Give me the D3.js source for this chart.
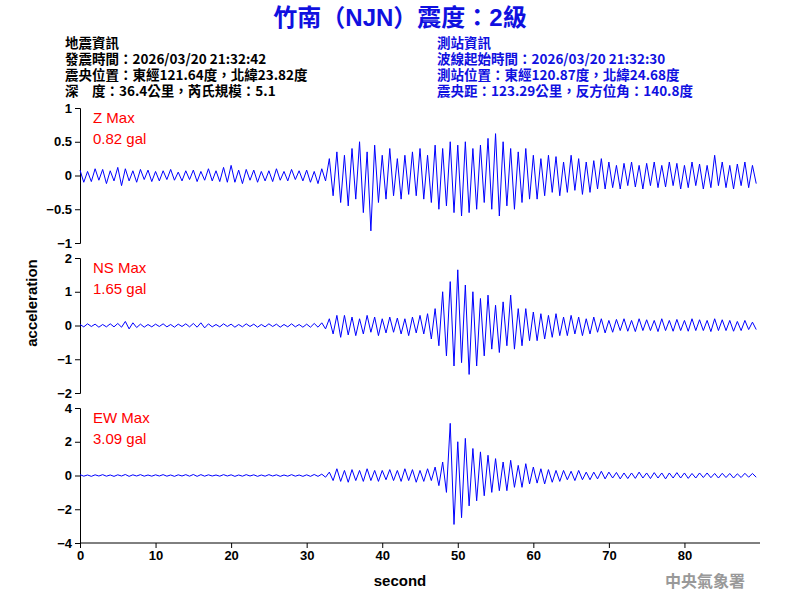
<!DOCTYPE html>
<html><head><meta charset="utf-8">
<script src="https://cdn.jsdelivr.net/npm/d3@7"></script>
<style>body{margin:0;background:#fff}text{font-family:"Liberation Sans",Arial,"Noto Sans CJK TC",sans-serif}</style>
</head><body><svg id="c" width="800" height="600"></svg>
<script>
const dt = 0.5;
const zData = [.08,-.1,.06,-.09,.1,-.07,.09,-.12,.07,-.08,.12,-.15,.1,-.08,.07,-.1,.09,-.06,.08,-.09,
.06,-.08,.07,-.06,.09,-.07,.05,-.08,.07,-.06,.08,-.09,.06,-.07,.1,-.08,.07,-.09,.12,-.1,
.15,-.1,.08,-.12,.09,-.07,.08,-.1,.06,-.08,.07,-.09,.1,-.07,.06,-.08,.09,-.06,.07,-.08,
.08,-.1,.06,-.12,.1,-.08,.25,-.3,.35,-.4,.3,-.45,.4,-.35,.5,-.55,.35,-.82,.45,-.4,
.3,-.35,.4,-.3,.25,-.35,.3,-.28,.35,-.3,.4,-.35,.3,-.4,.45,-.5,.4,-.45,.5,-.55,
.45,-.6,.5,-.55,.4,-.5,.45,-.4,.55,-.5,.62,-.6,.5,-.45,.4,-.5,.35,-.4,.4,-.35,
.3,-.35,.25,-.3,.3,-.25,.28,-.3,.2,-.25,.3,-.22,.25,-.28,.2,-.25,.22,-.2,.25,-.2,
.2,-.18,.15,-.2,.18,-.15,.2,-.17,.15,-.2,.18,-.15,.2,-.18,.15,-.17,.2,-.15,.18,-.2,
.15,-.18,.2,-.15,.17,-.2,.15,-.18,.3,-.15,.2,-.18,.15,-.2,.17,-.15,.2,-.18,.15,-.12];
const nsData = [.03,-.04,.05,-.03,.04,-.05,.03,-.04,.05,-.04,.06,-.05,.12,-.1,.08,-.06,.04,-.05,.03,-.04,
.04,-.03,.05,-.04,.03,-.05,.04,-.03,.05,-.04,.06,-.05,.08,-.07,.05,-.04,.03,-.04,.05,-.03,
.04,-.05,.03,-.04,.05,-.03,.04,-.05,.03,-.04,.05,-.03,.04,-.05,.03,-.04,.05,-.04,.03,-.05,
.04,-.05,.06,-.05,.08,-.1,.2,-.25,.3,-.35,.3,-.28,.25,-.3,.2,-.25,.3,-.2,.25,-.3,
.2,-.22,.25,-.2,.22,-.25,.2,-.3,.25,-.22,.3,-.25,.35,-.4,.5,-.6,1.0,-.9,1.3,-1.2,
1.65,-1.1,1.2,-1.45,1.0,-1.2,.8,-.9,.9,-.7,.6,-.8,.7,-.6,.9,-.7,.5,-.6,.5,-.45,
.4,-.45,.35,-.4,.3,-.35,.35,-.3,.25,-.3,.3,-.25,.25,-.3,.2,-.25,.25,-.2,.2,-.22,
.15,-.2,.18,-.15,.2,-.17,.15,-.18,.2,-.15,.17,-.15,.15,-.18,.2,-.15,.15,-.17,.18,-.15,
.15,-.17,.2,-.15,.17,-.15,.15,-.18,.2,-.15,.17,-.15,.15,-.17,.12,-.15,.15,-.12,.1,-.12];
const ewData = [.05,-.04,.03,-.05,.04,-.03,.05,-.04,.03,-.05,.04,-.03,.06,-.05,.04,-.03,.05,-.04,.03,-.04,
.04,-.03,.05,-.04,.03,-.05,.04,-.03,.05,-.04,.06,-.05,.05,-.04,.04,-.03,.03,-.04,.05,-.03,
.04,-.05,.03,-.04,.05,-.03,.04,-.05,.03,-.04,.05,-.03,.04,-.05,.03,-.04,.05,-.04,.03,-.05,
.04,-.05,.06,-.05,.08,-.1,.2,-.3,.4,-.35,.3,-.4,.35,-.3,.3,-.35,.4,-.3,.3,-.35,
.3,-.25,.35,-.3,.3,-.35,.4,-.3,.35,-.4,.3,-.35,.4,-.3,.5,-.6,.8,-1.0,3.09,-2.9,
2.0,-2.5,2.2,-1.8,1.6,-1.5,1.4,-1.2,1.2,-1.0,1.0,-.9,.8,-.9,.9,-.7,.6,-.7,.7,-.5,
.5,-.45,.4,-.5,.35,-.4,.3,-.35,.3,-.25,.25,-.3,.3,-.25,.2,-.25,.2,-.2,.25,-.2,
.2,-.15,.18,-.2,.15,-.18,.15,-.17,.2,-.15,.15,-.18,.17,-.15,.15,-.2,.15,-.15,.17,-.15,
.15,-.17,.12,-.15,.15,-.12,.15,-.13,.12,-.15,.13,-.12,.12,-.15,.1,-.12,.13,-.1,.12,-.1];
const panels = [
 {data:zData, max:1, ticks:[-1,-0.5,0,0.5,1], label:["Z Max","0.82 gal"], top:108},
 {data:nsData, max:2, ticks:[-2,-1,0,1,2], label:["NS Max","1.65 gal"], top:258},
 {data:ewData, max:4, ticks:[-4,-2,0,2,4], label:["EW Max","3.09 gal"], top:408}];
const xTicks = [0,10,20,30,40,50,60,70,80];
const leftInfo = ["地震資訊","發震時間：2026/03/20 21:32:42","震央位置：東經121.64度，北緯23.82度","深　度：36.4公里，芮氏規模：5.1"];
const rightInfo = ["測站資訊","波線起始時間：2026/03/20 21:32:30","測站位置：東經120.87度，北緯24.68度","震央距：123.29公里，反方位角：140.8度"];

const svg = d3.select("#c");
const x = d3.scaleLinear().domain([0,90]).range([80,760]);
const H = 135;
svg.append("text").attr("x",400).attr("y",26).attr("text-anchor","middle").attr("fill","#1010e0")
 .attr("font-size",24).attr("font-weight","bold").text("竹南（NJN）震度：2級");
leftInfo.forEach((t,i)=>svg.append("text").attr("x",65).attr("y",48+i*16).attr("font-size",13.5).attr("font-weight","bold").attr("fill","#000").style("font-family","'Noto Sans CJK TC','Liberation Sans'").text(t));
rightInfo.forEach((t,i)=>svg.append("text").attr("x",437).attr("y",48+i*16).attr("font-size",13.5).attr("font-weight","bold").attr("fill","#1010e0").style("font-family","'Noto Sans CJK TC','Liberation Sans'").text(t));
panels.forEach(p=>{
 const y = d3.scaleLinear().domain([-p.max,p.max]).range([p.top+H,p.top]);
 const g = svg.append("g").attr("transform","translate(80,0)")
  .call(d3.axisLeft(y).tickValues(p.ticks).tickFormat(d3.format("")).tickSize(5));
 g.selectAll("text").attr("font-size",13).attr("font-weight","bold").attr("fill","#000");
 svg.append("path").datum(p.data).attr("fill","none").attr("stroke","#0000ff").attr("stroke-width",1)
  .attr("d",d3.line().x((d,i)=>x(i*dt)).y(d=>y(d)));
 p.label.forEach((t,i)=>svg.append("text").attr("x",93).attr("y",p.top+15+i*21).attr("fill","#ff0000").attr("font-size",15).text(t));
});
const gx = svg.append("g").attr("transform","translate(0,543)").call(d3.axisBottom(x).tickValues(xTicks).tickSize(5));
gx.select(".domain").attr("d","M80,0H760");
gx.selectAll("text").attr("font-size",13).attr("font-weight","bold").attr("fill","#000");
svg.append("text").attr("x",400).attr("y",586).attr("text-anchor","middle").attr("font-size",15).attr("font-weight","bold").text("second");
svg.append("text").attr("transform","translate(37,303) rotate(-90)").attr("text-anchor","middle").attr("font-size",15).attr("font-weight","bold").text("acceleration");
svg.append("text").attr("x",745).attr("y",587).attr("text-anchor","end").attr("font-size",16).attr("font-weight","bold").attr("fill","#999").style("font-family","'Noto Sans CJK TC'").text("中央氣象署");
</script></body></html>
